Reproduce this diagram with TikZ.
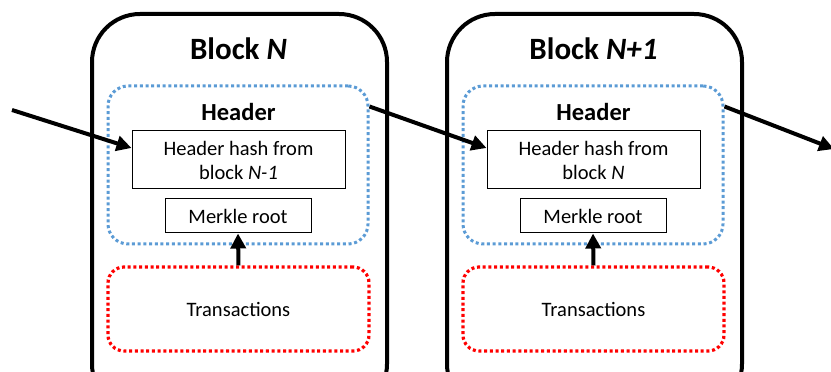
\documentclass[tikz,border=0pt]{standalone}
\usepackage{fontspec}
\setmainfont{Carlito}
\usetikzlibrary{arrows.meta,calc}
\definecolor{hdrblue}{RGB}{91,155,213}
\begin{document}
\begin{tikzpicture}[x=1pt,y=1pt,
  blockbox/.style={draw, line width=4pt, rounded corners=48pt, minimum width=295pt, minimum height=398pt, inner sep=0pt},
  title/.style={font=\fontsize{31}{36}\selectfont\bfseries},
  hdrlabel/.style={font=\fontsize{24.5}{28}\selectfont\bfseries},
  hdrbox/.style={draw=hdrblue, line width=3pt, dash pattern=on 3pt off 2.7pt, rounded corners=20pt, minimum width=260pt, minimum height=158pt, inner sep=0pt},
  txbox/.style={draw=red, line width=3.2pt, dash pattern=on 3pt off 2.7pt, rounded corners=16pt, minimum width=261pt, minimum height=84pt, inner sep=0pt, font=\fontsize{20.5}{24}\selectfont},
  hashbox/.style={draw, line width=1pt, minimum width=213pt, minimum height=58pt, inner sep=0pt, align=center, font=\fontsize{20.5}{24}\selectfont},
  merklebox/.style={draw, line width=1pt, minimum width=146pt, minimum height=34pt, inner sep=0pt, font=\fontsize{20.5}{24}\selectfont},
  arr/.style={line width=4pt, -{Triangle[length=15pt,width=15pt]}}
]
\useasboundingbox (0,0) rectangle (831,372);
\clip (0,0) rectangle (831,372);

% Block N
\node[blockbox] (b1) at (239.5,159) {};
\node[title] (t1) at (238.5,323) {Block \textit{N}};
\node[hdrbox] (h1) at (238,207) {};
\node[hdrlabel] (hl1) at (238.5,260) {Header};
\node[hashbox] (hash1) at (238.5,212) {Header hash from\\block \textit{N-1}};
\node[merklebox] (m1) at (238,156) {Merkle root};
\node[txbox] (tx1) at (238.5,63) {Transactions};

% Block N+1
\node[blockbox] (b2) at (594.5,159) {};
\node[title] (t2) at (593.5,323) {Block \textit{N+1}};
\node[hdrbox] (h2) at (593,207) {};
\node[hdrlabel] (hl2) at (593.5,260) {Header};
\node[hashbox] (hash2) at (593.5,212) {Header hash from\\block \textit{N}};
\node[merklebox] (m2) at (593,156) {Merkle root};
\node[txbox] (tx2) at (593.5,63) {Transactions};

% connectors
\coordinate (in) at (12,262);
\coordinate (out) at (834,223);
\draw[arr] (in) -- ($(hash1.west)+(0,12)$);
\draw[arr] ($(h1.north east)+(0,-22)$) -- ($(hash2.west)+(0,12)$);
\draw[arr] ($(h2.north east)+(0,-22)$) -- (out);
\draw[arr] (tx1.north) -- (m1.south);
\draw[arr] (tx2.north) -- (m2.south);
\end{tikzpicture}
\end{document}
